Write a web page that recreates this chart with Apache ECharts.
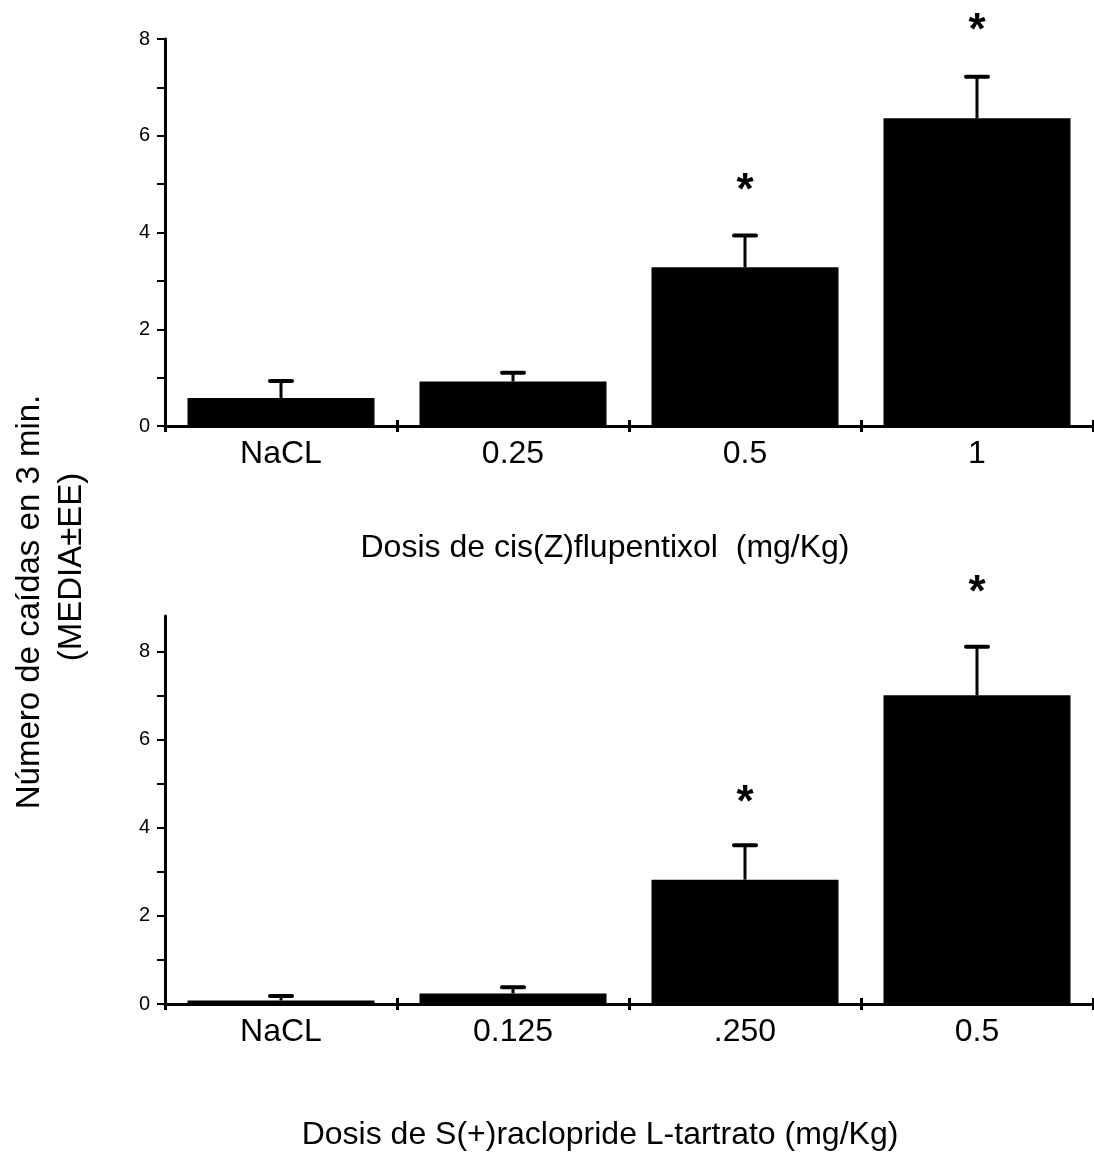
<!DOCTYPE html>
<html>
<head>
  <meta charset="utf-8" />
  <title>Caídas</title>
  <style>
    html, body { margin: 0; padding: 0; background: #fff; }
    #chart { width: 1094px; height: 1155px; }
  </style>
</head>
<body>
  <div id="chart"></div>
  <script src="https://cdn.jsdelivr.net/npm/echarts@6/dist/echarts.min.js"></script>
  <script>
    // top panel: cis(Z)flupentixol
    var topCategories = ['NaCL', '0.25', '0.5', '1'];
    var topMeans = [0.58, 0.92, 3.28, 6.36];
    var topErrors = [0.35, 0.18, 0.66, 0.86];
    var topStars = [null, null, 5.03, 8.32];

    // bottom panel: S(+)raclopride
    var botCategories = ['NaCL', '0.125', '.250', '0.5'];
    var botMeans = [0.08, 0.24, 2.82, 7.0];
    var botErrors = [0.10, 0.14, 0.78, 1.1];
    var botStars = [null, null, 4.73, 9.51];

    var yTicks = [0, 1, 2, 3, 4, 5, 6, 7, 8];
    var yLabels = [0, 2, 4, 6, 8];

    var FONT = 'Liberation Sans, Arial, sans-serif';
    var STAR_SIZE = 44;

    function errData(means, errs, stars) {
      return means.map(function (m, i) {
        return [i, m, m + errs[i], stars[i] == null ? '-' : stars[i]];
      });
    }

    function renderErr(params, api) {
      var i = api.value(0);
      var base = api.coord([i, api.value(1)]);
      var top = api.coord([i, api.value(2)]);
      var kids = [
        { type: 'line', shape: { x1: top[0], y1: base[1], x2: top[0], y2: top[1] },
          style: { stroke: '#000', lineWidth: 3 } },
        { type: 'line', shape: { x1: top[0] - 11, y1: top[1], x2: top[0] + 11, y2: top[1] },
          style: { stroke: '#000', lineWidth: 4, lineCap: 'round' } }
      ];
      var s = api.value(3);
      if (!isNaN(s)) {
        var p = api.coord([i, s]);
        kids.push({ type: 'text', x: p[0], y: p[1] + STAR_SIZE * 0.2,
          style: { text: '*', fill: '#000', font: 'bold ' + STAR_SIZE + 'px ' + FONT,
                   align: 'center', verticalAlign: 'middle' } });
      }
      return { type: 'group', children: kids };
    }

    function xAxes(cats, gi) {
      return [
        { type: 'category', gridIndex: gi, data: cats, position: 'bottom',
          axisLine: { lineStyle: { color: '#000', width: 3 } },
          axisTick: { show: true, inside: false, length: 6, lineStyle: { color: '#000', width: 3 } },
          axisLabel: { color: '#000', fontSize: 32, fontFamily: FONT, margin: 12 } },
        { type: 'category', gridIndex: gi, data: cats, position: 'bottom',
          axisLine: { show: false },
          axisTick: { show: true, inside: true, length: 6, lineStyle: { color: '#000', width: 3 } },
          axisLabel: { show: false } }
      ];
    }

    function yAxis(gi, max) {
      return {
        type: 'value', gridIndex: gi, min: 0, max: max, interval: 1,
        splitLine: { show: false },
        axisLine: { show: true, lineStyle: { color: '#000', width: 3 } },
        axisTick: { show: true, length: 8, customValues: yTicks, lineStyle: { color: '#000', width: 2 } },
        axisLabel: {
          color: '#000', fontSize: 20, fontFamily: FONT, margin: 15,
          formatter: function (v) { return yLabels.indexOf(v) >= 0 ? String(v) : ''; }
        }
      };
    }

    var chart = echarts.init(document.getElementById('chart'));
    chart.setOption({
      animation: false,
      backgroundColor: '#fff',
      grid: [
        { left: 165, top: 39, width: 928, height: 387 },
        { left: 165, top: 616, width: 928, height: 388 }
      ],
      xAxis: xAxes(topCategories, 0).concat(xAxes(botCategories, 1)),
      yAxis: [yAxis(0, 8), yAxis(1, 8.8)],
      graphic: [
        { type: 'text', x: 605, y: 548,
          style: { text: 'Dosis de cis(Z)flupentixol  (mg/Kg)', fill: '#000', font: '32px ' + FONT,
                   align: 'center', verticalAlign: 'middle' } },
        { type: 'text', x: 600, y: 1135,
          style: { text: 'Dosis de S(+)raclopride L-tartrato (mg/Kg)', fill: '#000', font: '32px ' + FONT,
                   align: 'center', verticalAlign: 'middle' } },
        { type: 'text', x: 30, y: 602, rotation: Math.PI / 2,
          style: { text: 'Número de caídas en 3 min.', fill: '#000', font: '33px ' + FONT,
                   align: 'center', verticalAlign: 'middle' } },
        { type: 'text', x: 72, y: 567, rotation: Math.PI / 2,
          style: { text: '(MEDIA±EE)', fill: '#000', font: '33px ' + FONT,
                   align: 'center', verticalAlign: 'middle' } }
      ],
      series: [
        { type: 'bar', xAxisIndex: 0, yAxisIndex: 0, data: topMeans, barWidth: 187,
          itemStyle: { color: '#000' } },
        { type: 'custom', xAxisIndex: 0, yAxisIndex: 0, data: errData(topMeans, topErrors, topStars),
          encode: { x: 0, y: [1, 2] }, renderItem: renderErr, z: 5 },
        { type: 'bar', xAxisIndex: 2, yAxisIndex: 1, data: botMeans, barWidth: 187,
          itemStyle: { color: '#000' } },
        { type: 'custom', xAxisIndex: 2, yAxisIndex: 1, data: errData(botMeans, botErrors, botStars),
          encode: { x: 0, y: [1, 2] }, renderItem: renderErr, z: 5 }
      ]
    });
  </script>
</body>
</html>
